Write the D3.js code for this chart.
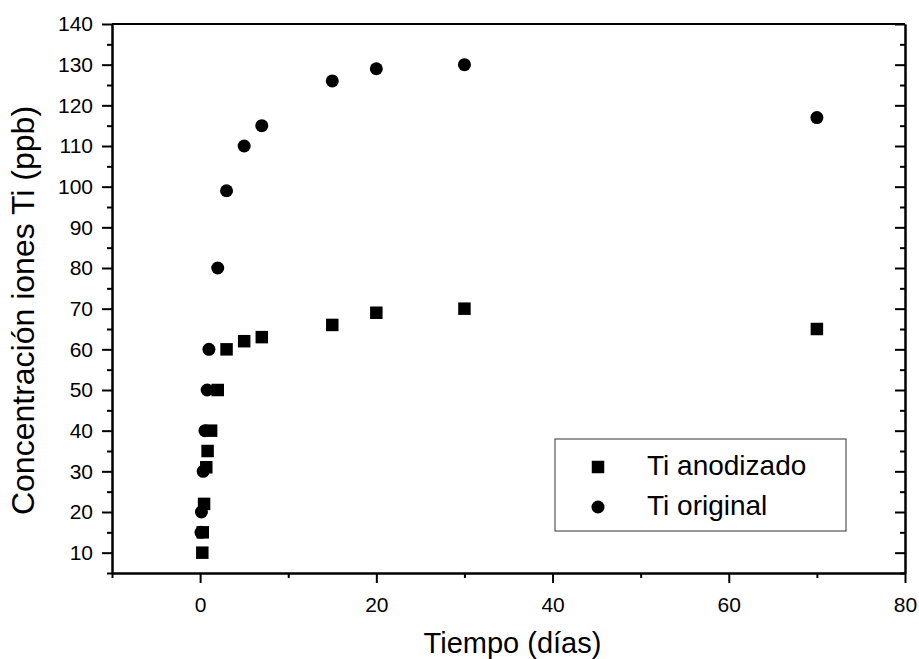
<!DOCTYPE html>
<html>
<head>
<meta charset="utf-8">
<script src="https://cdn.jsdelivr.net/npm/d3@7"></script>
<style>
  body { margin: 0; background: #fff; }
  text { font-family: "Liberation Sans", Arial, sans-serif; fill: #000; }
  .axis path, .axis line { stroke: #000; stroke-width: 2; }
</style>
</head>
<body>
<div id="chart"></div>
<script>
// Ti anodizado (squares)
var anodTime = [0.25, 0.3, 0.45, 0.7, 0.85, 1.25, 2, 3, 5, 7, 15, 20, 30, 70];
var anodConc = [10, 15, 22, 31, 35, 40, 50, 60, 62, 63, 66, 69, 70, 65];
// Ti original (circles)
var origTime = [0.1, 0.15, 0.35, 0.55, 0.8, 1, 2, 3, 5, 7, 15, 20, 30, 70];
var origConc = [15, 20, 30, 40, 50, 60, 80, 99, 110, 115, 126, 129, 130, 117];

var seriesNames = ["Ti anodizado", "Ti original"];
var xTicks = [0, 20, 40, 60, 80];
var xMinor = [-10, 10, 30, 50, 70];
var yTicks = [10, 20, 30, 40, 50, 60, 70, 80, 90, 100, 110, 120, 130, 140];
var yMinor = [5, 15, 25, 35, 45, 55, 65, 75, 85, 95, 105, 115, 125, 135];

var W = 919, H = 659;
var margin = {top: 24, right: 14, bottom: 86, left: 112},
    width = W - margin.left - margin.right,
    height = H - margin.top - margin.bottom;

var x = d3.scaleLinear().domain([-10, 80]).range([0, width]);
var y = d3.scaleLinear().domain([5, 140]).range([height, 0]);

var svg = d3.select("#chart").append("svg")
    .attr("width", W)
    .attr("height", H)
    .append("g")
    .attr("transform", "translate(" + margin.left + "," + margin.top + ")");

// bottom axis
svg.append("g")
    .attr("class", "axis")
    .attr("transform", "translate(0," + height + ")")
    .call(d3.axisBottom(x).tickValues(xMinor).tickSize(5).tickSizeOuter(0).tickFormat(""));
svg.append("g")
    .attr("class", "axis")
    .attr("transform", "translate(0," + height + ")")
    .call(d3.axisBottom(x).tickValues(xTicks).tickSize(10).tickSizeOuter(0).tickPadding(14))
    .selectAll("text").style("font-size", "21px");

// left axis
svg.append("g")
    .attr("class", "axis")
    .call(d3.axisLeft(y).tickValues(yMinor).tickSize(5).tickSizeOuter(0).tickFormat(""));
svg.append("g")
    .attr("class", "axis")
    .call(d3.axisLeft(y).tickValues(yTicks).tickSize(10).tickSizeOuter(0).tickPadding(9))
    .selectAll("text").style("font-size", "21px");

// right axis, ticks inward
svg.append("g")
    .attr("class", "axis")
    .attr("transform", "translate(" + width + ",0)")
    .call(d3.axisRight(y).tickValues(yMinor).tickSize(-5).tickSizeOuter(0).tickFormat(""));
svg.append("g")
    .attr("class", "axis")
    .attr("transform", "translate(" + width + ",0)")
    .call(d3.axisRight(y).tickValues(yTicks).tickSize(-10).tickSizeOuter(0).tickFormat(""));

// top axis, no ticks
svg.append("line")
    .attr("x1", 0).attr("x2", width)
    .attr("y1", 0).attr("y2", 0)
    .style("stroke", "#000").style("stroke-width", 2);

var square = d3.symbol().type(d3.symbolSquare).size(156);
var circle = d3.symbol().type(d3.symbolCircle).size(133);

var anod = anodTime.map(function (t, i) { return {t: t, c: anodConc[i]}; });
var orig = origTime.map(function (t, i) { return {t: t, c: origConc[i]}; });

svg.selectAll(".anod")
    .data(anod)
    .enter().append("path")
    .attr("class", "anod")
    .attr("d", square)
    .attr("transform", function (d) { return "translate(" + x(d.t) + "," + y(d.c) + ")"; })
    .style("fill", "#000");

svg.selectAll(".orig")
    .data(orig)
    .enter().append("path")
    .attr("class", "orig")
    .attr("d", circle)
    .attr("transform", function (d) { return "translate(" + x(d.t) + "," + y(d.c) + ")"; })
    .style("fill", "#000");

// axis titles
svg.append("text")
    .attr("x", width / 2 + 4)
    .attr("y", height + 80)
    .style("text-anchor", "middle")
    .style("font-size", "29px")
    .text("Tiempo (días)");

svg.append("text")
    .attr("transform", "translate(" + (34 - margin.left) + "," + (height / 2 + 12) + ") rotate(-90)")
    .style("text-anchor", "middle")
    .style("font-size", "32px")
    .text("Concentración iones Ti (ppb)");

// legend
var legend = svg.append("g")
    .attr("transform", "translate(" + (555 - margin.left) + "," + (439 - margin.top) + ")");

legend.append("rect")
    .attr("width", 291)
    .attr("height", 92)
    .style("fill", "#fff")
    .style("stroke", "#333")
    .style("stroke-width", 1);

var legItem = legend.selectAll(".legend")
    .data(seriesNames)
    .enter().append("g")
    .attr("class", "legend")
    .attr("transform", function (d, i) { return "translate(0," + (28 + i * 40) + ")"; });

legItem.append("path")
    .attr("d", function (d, i) { return i === 0 ? square() : circle(); })
    .attr("transform", "translate(43,0)")
    .style("fill", "#000");

legItem.append("text")
    .attr("x", 92)
    .attr("y", 8)
    .style("font-size", "28px")
    .text(function (d) { return d; });
</script>
</body>
</html>
